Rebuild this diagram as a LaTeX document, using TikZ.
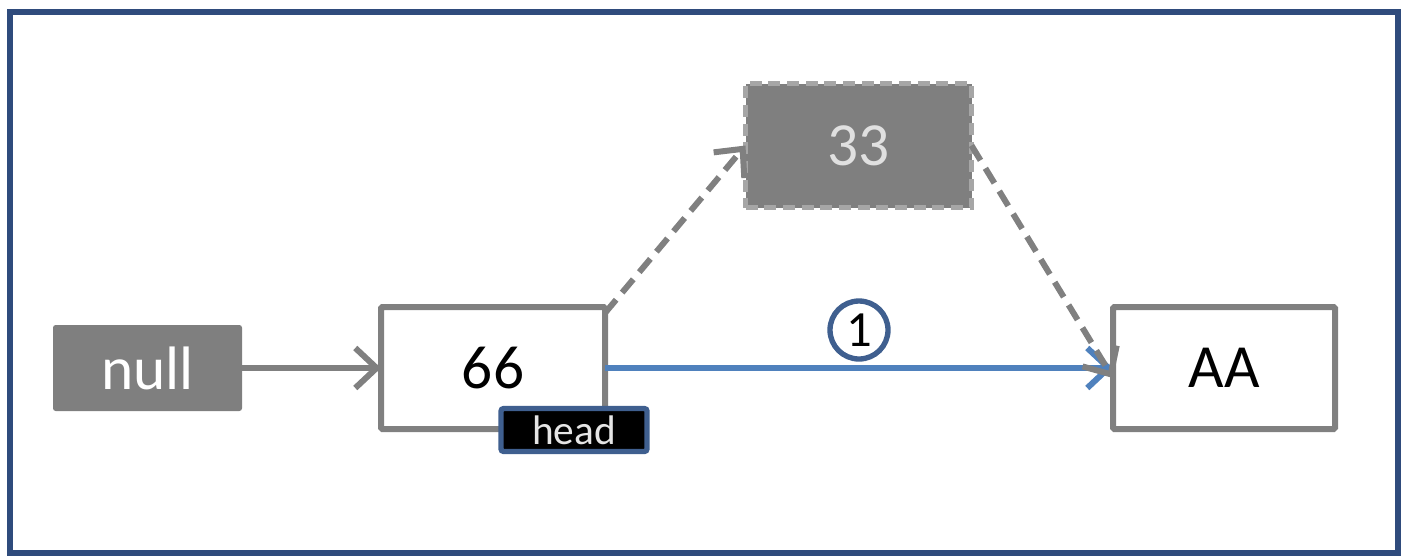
\documentclass[tikz,border=0pt]{standalone}
\usepackage{fontspec}
\setmainfont{Carlito}
\usetikzlibrary{arrows.meta}
\definecolor{frameblue}{HTML}{2F4B7C}
\definecolor{boxgray}{HTML}{7F7F7F}
\definecolor{linegray}{HTML}{808080}
\definecolor{arrblue}{HTML}{4F81BD}
\definecolor{headblue}{HTML}{3F5F8F}
\tikzset{
  every node/.style={inner sep=0pt, outer sep=0pt},
  graybox/.style={fill=boxgray, rounded corners=2pt, text=white},
  whitebox/.style={draw=linegray, line width=4.5pt, fill=white, rounded corners=1pt, text=black},
  conn/.style={line width=4.5pt, -{Straight Barb[length=16pt,width=30pt,line width=4.5pt]}},
  bigtxt/.style={font=\fontsize{46}{50}\selectfont},
}
\begin{document}
\begin{tikzpicture}[x=0.75pt,y=-0.75pt]
\useasboundingbox (0,0) rectangle (1402,558);
\node[draw=frameblue, line width=4.5pt, minimum width=1388*0.75pt, minimum height=541*0.75pt] (frame) at (704,282.5) {};
% boxes
\node[graybox, bigtxt, minimum width=189*0.75pt, minimum height=86*0.75pt] (null) at (147.5,368) {null};
\node[whitebox, bigtxt, minimum width=224*0.75pt, minimum height=122*0.75pt] (n66) at (493,368) {66};
\node[whitebox, bigtxt, minimum width=222*0.75pt, minimum height=122*0.75pt] (nAA) at (1224,368) {AA};
\node[fill=boxgray, draw=gray!70, line width=4pt, dash pattern=on 9pt off 5pt, text=white!88!black, bigtxt, minimum width=226*0.75pt, minimum height=124*0.75pt] (n33) at (858.5,145.5) {33};
\node[fill=black, draw=headblue, line width=4pt, rounded corners=2pt, text=white!90!black, font=\fontsize{31}{34}\selectfont, minimum width=146*0.75pt, minimum height=43*0.75pt] (head) at (574,430) {head};
% connectors
\draw[conn, linegray] (null.east) -- (n66.west);
\draw[conn, arrblue] (n66.east) -- (nAA.west);
\coordinate (s1) at ([yshift=-6*0.75pt]n66.north east);
\draw[conn, linegray, dash pattern=on 13pt off 7pt] (s1) -- (n33.west);
\draw[conn, linegray, dash pattern=on 13pt off 7pt] (n33.east) -- ([yshift=-10*0.75pt]nAA.west);
% step label
\node[circle, draw=headblue, line width=4pt, fill=white, minimum size=58*0.75pt, font=\fontsize{38}{40}\selectfont] (one) at (859,330) {1};
\end{tikzpicture}
\end{document}
